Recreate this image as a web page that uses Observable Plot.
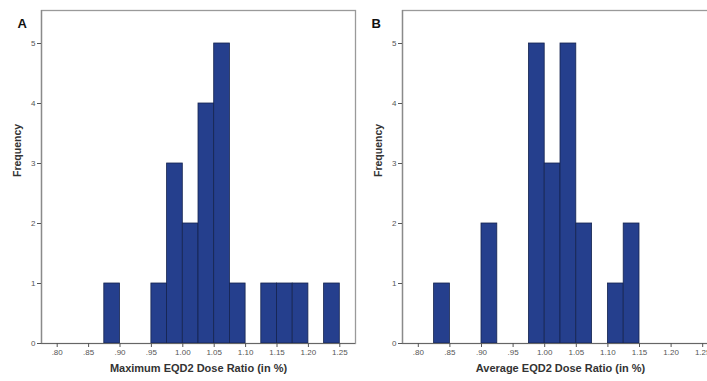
<!DOCTYPE html>
<html>
<head>
<meta charset="utf-8">
<script src="https://cdn.jsdelivr.net/npm/d3@7"></script>
<script src="https://cdn.jsdelivr.net/npm/@observablehq/plot@0.6"></script>
<style>
  html, body { margin: 0; padding: 0; background: #fff; overflow: hidden; width: 707px; height: 381px; }
  #wrap { position: relative; width: 707px; height: 381px; overflow: hidden; }
  .panel { position: absolute; top: 0; }
  .panel svg { overflow: visible; max-width: none !important; display: block; }
</style>
</head>
<body>
<div id="wrap">
  <div class="panel" id="pa" style="left:0px; width:360px"></div>
  <div class="panel" id="pb" style="left:360px; width:380px"></div>
</div>
<script>
// Bin width 0.025; bin starts and counts
const binWidth = 0.025;
const maxBinStarts = [0.875, 0.95, 0.975, 1.0, 1.025, 1.05, 1.075, 1.125, 1.15, 1.175, 1.225];
const maxCounts    = [1,     1,    3,     2,   4,     5,    1,     1,     1,    1,     1];
const avgBinStarts = [0.825, 0.90, 0.975, 1.0, 1.025, 1.05, 1.10, 1.125];
const avgCounts    = [1,     2,    5,     3,   5,     2,    1,     2];
const xTicks = [0.80, 0.85, 0.90, 0.95, 1.00, 1.05, 1.10, 1.15, 1.20, 1.25];
const yTicks = [0, 1, 2, 3, 4, 5];
const panelLetters = ["A", "B"];
const xTitles = ["Maximum EQD2 Dose Ratio (in %)", "Average EQD2 Dose Ratio (in %)"];
const yTitle = "Frequency";

const fmt = d => d < 1 ? d.toFixed(2).slice(1) : d.toFixed(2);

function histo(starts, counts, letter, xTitle, width, mL, mR, letterDx) {
  const data = starts.map((s, i) => ({x1: s, x2: s + binWidth, y: counts[i]}));
  return Plot.plot({
    width, height: 381,
    marginLeft: mL, marginRight: mR, marginTop: 10, marginBottom: 38,
    style: {fontFamily: "Liberation Sans, Arial, sans-serif", background: "transparent"},
    x: {domain: [0.775, 1.275]},
    y: {domain: [0, 5.55]},
    marks: [
      Plot.frame({stroke: "#9a9a9a", strokeWidth: 1.3}),
      Plot.rectY(data, {x1: "x1", x2: "x2", y: "y", fill: "#253f8d", stroke: "#15244f", strokeWidth: 0.8}),
      Plot.ruleY([0], {stroke: "#666", strokeWidth: 1.2}),
      Plot.ruleX([0.775], {stroke: "#8a8a8a", strokeWidth: 1.3}),
      Plot.axisX({ticks: xTicks, tickFormat: fmt, tickSize: 4, tickPadding: 2, fontSize: 8, color: "#555", label: null}),
      Plot.axisY({ticks: yTicks, tickFormat: d3.format("d"), tickSize: 4, tickPadding: 2, fontSize: 8, color: "#555", label: null}),
      Plot.text([xTitle], {frameAnchor: "bottom", dy: 28, fontWeight: "bold", fontSize: 11, fill: "#333"}),
      Plot.text([yTitle], {frameAnchor: "left", dx: -24, rotate: -90, fontWeight: "bold", fontSize: 10.5, fill: "#333"}),
      Plot.text([letter], {frameAnchor: "top-left", dx: letterDx, dy: 8, fontWeight: "bold", fontSize: 13, fill: "#111"})
    ]
  });
}

document.getElementById("pa").append(histo(maxBinStarts, maxCounts, panelLetters[0], xTitles[0], 360, 41, 5, -24));
document.getElementById("pb").append(histo(avgBinStarts, avgCounts, panelLetters[1], xTitles[1], 380, 42, 22, -31));
</script>
</body>
</html>
